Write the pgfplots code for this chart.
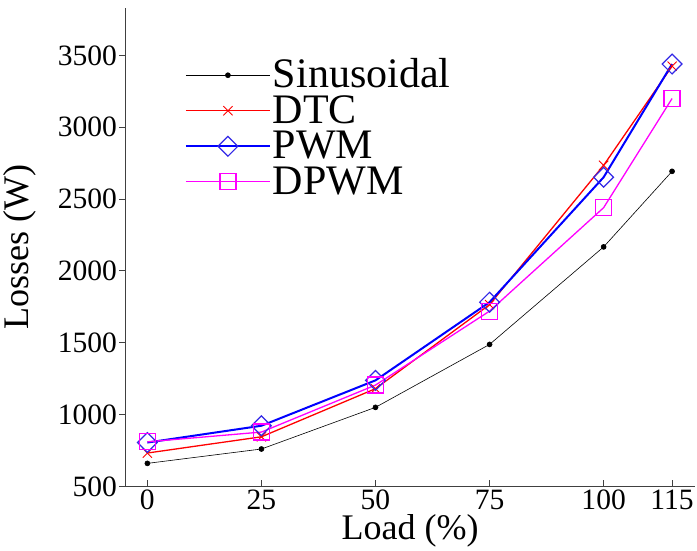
\documentclass[border=0pt]{standalone}
\usepackage{pgfplots}
\pgfplotsset{compat=1.18}
\usepackage{fontspec}
\setmainfont{Liberation Serif}
\definecolor{mag}{RGB}{255,0,255}
\definecolor{pwmblue}{RGB}{0,0,255}
\definecolor{dmark}{RGB}{50,40,230}
\begin{document}
\begin{tikzpicture}
\begin{axis}[
  scale only axis,
  width=569pt, height=478pt,
  xmin=-4.8, xmax=120,
  ymin=500, ymax=3830,
  axis x line=bottom, axis y line=left,
  axis line style={-, line width=0.8pt, black!75},
  xtick={0,25,50,75,100,115},
  ytick={500,1000,1500,2000,2500,3000,3500},
  xtick align=inside, ytick align=outside,
  major tick length=6pt,
  tick style={black!75, line width=0.8pt},
  /pgf/number format/assume math mode=true,
  /pgf/number format/1000 sep={},
  ticklabel style={font=\fontsize{29.5}{32}\selectfont},
  yticklabel style={xshift=1pt},
  xlabel={Load (\%)}, ylabel={Losses (W)},
  label style={font=\fontsize{36}{40}\selectfont},
  xlabel style={yshift=2pt},
  ylabel style={yshift=15pt},
  extra description/.code={\path (rel axis cs:0,1) ++(0,8pt);},
  legend style={draw=none, fill=none, at={(0.104,0.897)}, anchor=north west,
    font=\fontsize{42}{44}\selectfont, row sep=0pt, inner sep=0pt,
    nodes={text height=28pt, text depth=3.5pt, inner sep=2pt},
    cells={anchor=west}},
  legend image code/.code={\draw[mark repeat=2,mark phase=2] plot coordinates {(0pt,0pt)(42pt,0pt)(84pt,0pt)};},
]
\addplot[black, line width=0.6pt, mark=*, mark size=2.5pt] coordinates {
 (0,660) (25,760) (50,1050) (75,1488) (100,2167) (115,2693)};
\addlegendentry{Sinusoidal}
\addplot[red, line width=1.3pt, mark=x, mark size=6.5pt, mark options={line width=0.9pt}] coordinates {
 (0,732) (25,845) (50,1180) (75,1765) (100,2735) (115,3425)};
\addlegendentry{DTC}
\addplot[pwmblue, line width=2pt, mark=square, mark size=7pt, mark options={rotate=45, line width=1.2pt, color=dmark}] coordinates {
 (0,805) (25,922) (50,1238) (75,1782) (100,2652) (115,3440)};
\addlegendentry{PWM}
\addplot[mag, line width=1.3pt, mark=square, mark size=8pt, mark options={line width=1.2pt}] coordinates {
 (0,810) (25,878) (50,1205) (75,1720) (100,2440) (115,3200)};
\addlegendentry{DPWM}
\end{axis}
\end{tikzpicture}
\end{document}
